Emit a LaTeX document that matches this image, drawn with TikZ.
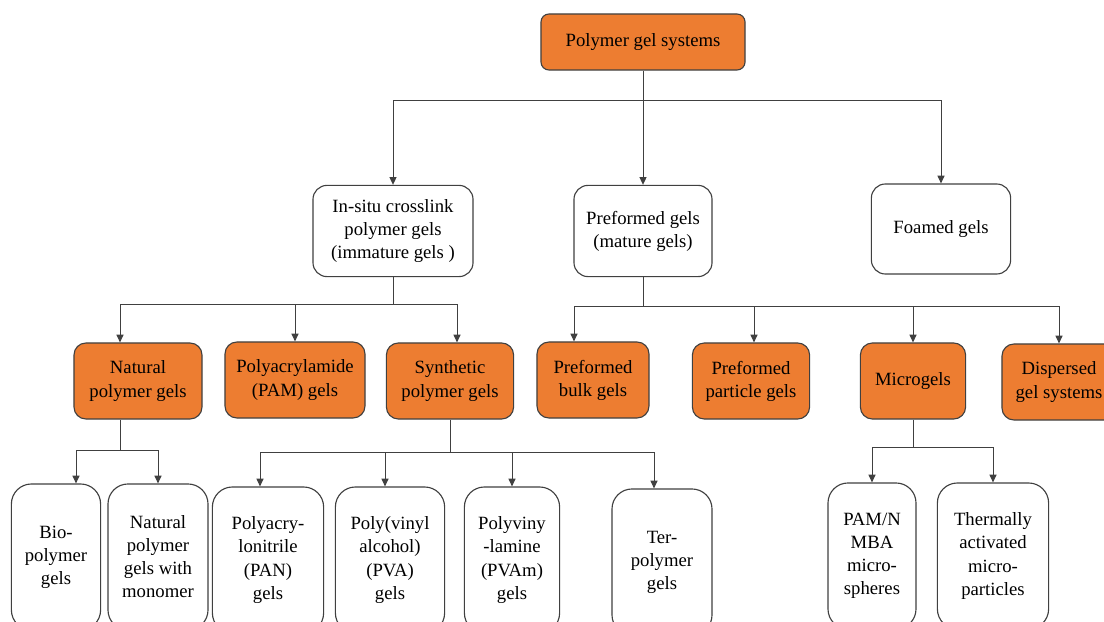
\documentclass[tikz,border=0pt]{standalone}
\usepackage{fontspec}
\setmainfont{Liberation Serif}
\usetikzlibrary{positioning,calc,arrows.meta}
\definecolor{gelorange}{HTML}{ED7D31}
\definecolor{lineclr}{HTML}{404040}

\begin{document}
\begin{tikzpicture}[x=0.025cm, y=-0.025cm,
    font=\fontsize{13.3}{16.4}\selectfont,
    box/.style={draw=lineclr, line width=0.8pt, align=center, inner sep=2pt},
    rootbox/.style={box, fill=gelorange, rounded corners=0.2cm, minimum width=5.1cm, minimum height=1.4cm},
    typebox/.style={box, fill=white, rounded corners=0.35cm, minimum height=2.28cm},
    gelbox/.style={box, fill=gelorange, rounded corners=0.3cm, minimum height=1.9cm},
    leafbox/.style={box, fill=white, rounded corners=0.5cm, minimum height=3.65cm},
    conn/.style={draw=lineclr, line width=0.7pt},
    arr/.style={conn, -{Triangle[length=5.5pt,width=5pt]}}]
    \useasboundingbox (0,0) rectangle (1104,622);
    \clip (0,0) rectangle (1104,622);

    \node (top) [rootbox] at (643,42) {Polymer gel systems};
    % kinds of gel systems
    \node (insitu) [typebox, minimum width=4cm] at (393,231) {In-situ crosslink\\polymer gels\\(immature gels )};
    \node (pregel) [typebox, minimum width=3.45cm] at (643,231) {Preformed gels\\(mature gels)};
    \node (foam) [typebox, minimum width=3.48cm, minimum height=2.25cm] at (941,229) {Foamed gels};
    % orange row
    \node (natural) [gelbox, minimum width=3.2cm] at (138,381) {Natural\\polymer gels};
    \node (pam) [gelbox, minimum width=3.5cm] at (295,380) {Polyacrylamide\\(PAM) gels};
    \node (synth) [gelbox, minimum width=3.18cm] at (450,381) {Synthetic\\polymer gels};
    \node (bulk) [gelbox, minimum width=2.8cm] at (593,380) {Preformed\\bulk gels};
    \node (particle) [gelbox, minimum width=2.93cm] at (751,381) {Preformed\\particle gels};
    \node (micro) [gelbox, minimum width=2.63cm] at (913,381) {Microgels};
    \node (disp) [gelbox, minimum width=2.85cm] at (1059,382) {Dispersed\\gel systems};
    % bottom row
    \node (bio) [leafbox, minimum width=2.23cm] at (56,557) {Bio-\\polymer\\gels};
    \node (natmono) [leafbox, minimum width=2.5cm] at (158,557) {Natural\\polymer\\gels with\\monomer};
    \node (pan) [leafbox, minimum width=2.78cm] at (268,560) {Polyacry-\\lonitrile\\(PAN)\\gels};
    \node (pva) [leafbox, minimum width=2.73cm] at (390,560) {Poly(vinyl\\alcohol)\\(PVA)\\gels};
    \node (pvam) [leafbox, minimum width=2.38cm] at (512,560) {Polyviny\\-lamine\\(PVAm)\\gels};
    \node (ter) [leafbox, minimum width=2.5cm] at (662,562) {Ter-\\polymer\\gels};
    \node (pamn) [leafbox, minimum width=2.2cm] at (872,556) {PAM/N\\MBA\\micro-\\spheres};
    \node (therm) [leafbox, minimum width=2.78cm] at (993,556) {Thermally\\activated\\micro-\\particles};

    % root to second row
    \coordinate (busA) at (643,100);
    \draw[conn] (top) -- (busA);
    \draw[arr] (busA) -| (insitu);
    \draw[arr] (busA) -- (pregel);
    \draw[arr] (busA) -| (foam);

    % in-situ to its gels
    \coordinate (busB) at (393,304);
    \draw[conn] (insitu) -- (busB);
    \draw[arr] (busB) -| ($(natural.north)+(-18,0)$);
    \draw[arr] (busB) -| (pam);
    \draw[arr] (busB) -| ($(synth.north)+(7,0)$);

    % preformed to its gels
    \coordinate (busC) at (643,306);
    \draw[conn] (pregel) -- (busC);
    \draw[arr] (busC) -| ($(bulk.north)+(-19,0)$);
    \draw[arr] (busC) -| ($(particle.north)+(3,0)$);
    \draw[arr] (busC) -| (micro);
    \draw[arr] (busC) -| (disp);

    % natural to leaves
    \coordinate (busD) at (120,450);
    \draw[conn] (natural.south -| busD) -- (busD);
    \draw[arr] (busD) -| ($(bio.north)+(20,0)$);
    \draw[arr] (busD) -| (natmono);

    % synthetic to leaves
    \coordinate (busE) at (450,452);
    \draw[conn] (synth) -- (busE);
    \draw[arr] (busE) -| ($(pan.north)+(-8,0)$);
    \draw[arr] (busE) -| ($(pva.north)+(-5,0)$);
    \draw[arr] (busE) -| (pvam);
    \draw[arr] (busE) -| ($(ter.north)+(-8,0)$);

    % microgels to leaves
    \coordinate (busF) at (913,447);
    \draw[conn] (micro) -- (busF);
    \draw[arr] (busF) -| (pamn);
    \draw[arr] (busF) -| (therm);
\end{tikzpicture}
\end{document}
